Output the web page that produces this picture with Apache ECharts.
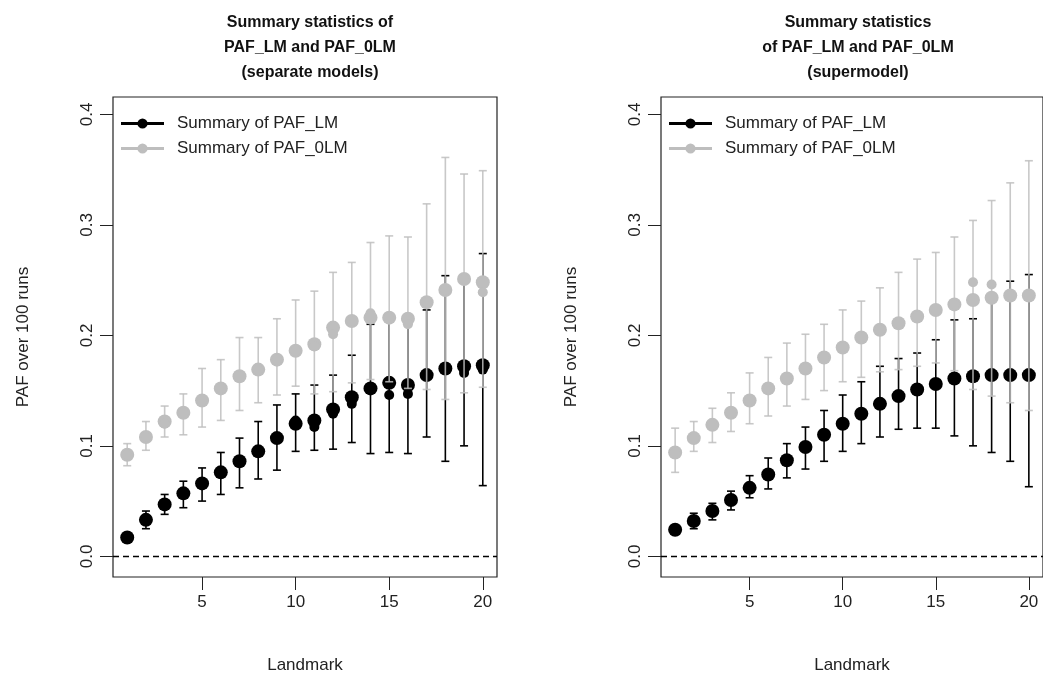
<!DOCTYPE html>
<html><head><meta charset="utf-8">
<script src="https://cdn.jsdelivr.net/npm/echarts@6/dist/echarts.min.js"></script>
<style>html,body{margin:0;padding:0;background:#fff}#c{width:1043px;height:687px}</style>
</head><body><div id="c"></div>
<script>
const landmarks = [1,2,3,4,5,6,7,8,9,10,11,12,13,14,15,16,17,18,19,20];
const xTicks = [5,10,15,20];
const yTicks = [0,0.1,0.2,0.3,0.4];

// Left panel: separate models
const sepLmMean   = [0.017,0.033,0.047,0.057,0.066,0.076,0.086,0.095,0.107,0.120,0.123,0.133,0.144,0.152,0.157,0.155,0.164,0.170,0.172,0.173];
const sepLmMedian = [0.017,0.033,0.047,0.057,0.066,0.076,0.086,0.095,0.107,0.123,0.117,0.129,0.138,0.152,0.146,0.147,0.164,0.170,0.166,0.169];
const sepLmMax    = [0.021,0.041,0.056,0.068,0.080,0.094,0.107,0.122,0.137,0.147,0.155,0.164,0.182,0.210,0.214,0.213,0.223,0.254,0.248,0.274];
const sepLmMin    = [0.013,0.025,0.038,0.044,0.050,0.056,0.062,0.070,0.078,0.095,0.096,0.097,0.103,0.093,0.094,0.093,0.108,0.086,0.100,0.064];
const sep0lmMean   = [0.092,0.108,0.122,0.130,0.141,0.152,0.163,0.169,0.178,0.186,0.192,0.207,0.213,0.216,0.216,0.215,0.230,0.241,0.251,0.248];
const sep0lmMedian = [0.092,0.108,0.120,0.130,0.141,0.152,0.163,0.169,0.178,0.186,0.190,0.201,0.213,0.220,0.216,0.210,0.230,0.241,0.251,0.239];
const sep0lmMax    = [0.102,0.122,0.136,0.147,0.170,0.178,0.198,0.198,0.215,0.232,0.240,0.257,0.266,0.284,0.290,0.289,0.319,0.361,0.346,0.349];
const sep0lmMin    = [0.082,0.096,0.108,0.110,0.117,0.123,0.132,0.139,0.146,0.154,0.147,0.149,0.157,0.160,0.158,0.152,0.151,0.142,0.148,0.153];

// Right panel: supermodel
const supLmMean   = [0.024,0.032,0.041,0.051,0.062,0.074,0.087,0.099,0.110,0.120,0.129,0.138,0.145,0.151,0.156,0.161,0.163,0.164,0.164,0.164];
const supLmMedian = [0.024,0.032,0.041,0.051,0.062,0.074,0.087,0.099,0.110,0.120,0.129,0.138,0.145,0.151,0.156,0.161,0.163,0.164,0.164,0.164];
const supLmMax    = [0.028,0.039,0.048,0.059,0.073,0.089,0.102,0.117,0.132,0.146,0.158,0.172,0.179,0.184,0.196,0.214,0.215,0.235,0.249,0.255];
const supLmMin    = [0.020,0.025,0.033,0.042,0.053,0.061,0.071,0.079,0.086,0.095,0.102,0.108,0.115,0.116,0.116,0.109,0.100,0.094,0.086,0.063];
const sup0lmMean   = [0.094,0.107,0.119,0.130,0.141,0.152,0.161,0.170,0.180,0.189,0.198,0.205,0.211,0.217,0.223,0.228,0.232,0.234,0.236,0.236];
const sup0lmMedian = [0.094,0.107,0.119,0.130,0.141,0.152,0.161,0.170,0.180,0.189,0.198,0.205,0.211,0.217,0.223,0.228,0.248,0.246,0.236,0.236];
const sup0lmMax    = [0.116,0.122,0.134,0.148,0.166,0.180,0.193,0.201,0.210,0.223,0.231,0.243,0.257,0.269,0.275,0.289,0.304,0.322,0.338,0.358];
const sup0lmMin    = [0.076,0.095,0.103,0.113,0.120,0.127,0.136,0.142,0.150,0.158,0.162,0.167,0.169,0.172,0.175,0.168,0.151,0.145,0.139,0.132];

const NAME_LM = 'Summary of PAF_LM';
const NAME_0LM = 'Summary of PAF_0LM';
const BLACK = '#000000';
const GREY = '#bebebe';
const FONT = 'Liberation Sans, Arial, Helvetica, sans-serif';

const chart = echarts.init(document.getElementById('c'), null, {renderer: 'canvas'});

function whiskers(idx, name, mins, maxs, color, opacity, z) {
  return {
    type: 'custom', name: name, xAxisIndex: idx, yAxisIndex: idx, z: z,
    encode: {x: 0, y: [1, 2]},
    data: landmarks.map((x, i) => [x, mins[i], maxs[i]]),
    renderItem: function (params, api) {
      const x = api.value(0);
      const lo = api.coord([x, api.value(1)]);
      const hi = api.coord([x, api.value(2)]);
      const w = 4;
      const st = {stroke: color, lineWidth: 1.6, opacity: opacity};
      return {type: 'group', children: [
        {type: 'line', shape: {x1: lo[0], y1: lo[1], x2: hi[0], y2: hi[1]}, style: st},
        {type: 'line', shape: {x1: lo[0]-w, y1: lo[1], x2: lo[0]+w, y2: lo[1]}, style: st},
        {type: 'line', shape: {x1: hi[0]-w, y1: hi[1], x2: hi[0]+w, y2: hi[1]}, style: st}
      ]};
    },
    silent: true
  };
}
function points(idx, name, vals, color, size, z, extra) {
  const s = {
    type: 'scatter', name: name, xAxisIndex: idx, yAxisIndex: idx, z: z,
    symbol: 'circle', symbolSize: size,
    itemStyle: {color: color, opacity: 1},
    data: landmarks.map((x, i) => [x, vals[i]]),
    silent: true
  };
  return Object.assign(s, extra || {});
}
const zeroLine = {
  silent: true, symbol: 'none', label: {show: false},
  lineStyle: {color: '#000', type: [6, 4], width: 1.4},
  data: [{yAxis: 0}]
};

const legendIcon = 'path://M0,4.5H42V7.5H0Z M16,6a5,5 0 1,1 10,0a5,5 0 1,1 -10,0Z';
function legend(left, top) {
  return {
    left: left, top: top, orient: 'vertical', itemWidth: 43, itemHeight: 12, itemGap: 8,
    selectedMode: false,
    textStyle: {fontFamily: FONT, fontSize: 17, color: '#222', padding: [0, 0, 0, 8]},
    data: [
      {name: NAME_LM, icon: legendIcon, itemStyle: {color: BLACK}},
      {name: NAME_0LM, icon: legendIcon, itemStyle: {color: GREY}}
    ]
  };
}
function xAxis(idx) {
  return {
    type: 'value', gridIndex: idx, min: 0.24, max: 20.76,
    splitLine: {show: false}, axisLine: {show: false, onZero: false},
    axisTick: {show: true, inside: false, length: 13, customValues: xTicks, lineStyle: {color: '#222', width: 1}},
    axisLabel: {show: true, customValues: xTicks, margin: 17, fontFamily: FONT, fontSize: 17, color: '#222'},
    name: 'Landmark', nameLocation: 'middle', nameGap: 80,
    nameTextStyle: {fontFamily: FONT, fontSize: 17, color: '#222'}
  };
}
function yAxis(idx) {
  return {
    type: 'value', gridIndex: idx, min: -0.0187, max: 0.4157,
    splitLine: {show: false}, axisLine: {show: false, onZero: false},
    axisTick: {show: true, inside: false, length: 13, customValues: yTicks, lineStyle: {color: '#222', width: 1}},
    axisLabel: {show: true, customValues: yTicks, rotate: 90, margin: 17, fontFamily: FONT, fontSize: 17, color: '#222',
      formatter: v => v.toFixed(1)},
    name: 'PAF over 100 runs', nameLocation: 'middle', nameGap: 81, nameRotate: 90,
    nameTextStyle: {fontFamily: FONT, fontSize: 17, color: '#222'}
  };
}
const titleStyle = {fontFamily: FONT, fontSize: 16, fontWeight: 'bold', color: '#111', lineHeight: 25};

chart.setOption({
  animation: false,
  backgroundColor: '#fff',
  title: [
    {text: 'Summary statistics of\nPAF_LM and PAF_0LM\n(separate models)', left: 305, top: 5, textAlign: 'center', textStyle: titleStyle},
    {text: 'Summary statistics\nof PAF_LM and PAF_0LM\n(supermodel)', left: 853, top: 5, textAlign: 'center', textStyle: titleStyle}
  ],
  legend: [legend(116, 110), legend(664, 110)],
  grid: [
    {left: 113, top: 97, width: 384, height: 480, show: true, borderColor: '#222', borderWidth: 1.2, backgroundColor: 'transparent'},
    {left: 661, top: 97, width: 384, height: 480, show: true, borderColor: '#222', borderWidth: 1.2, backgroundColor: 'transparent'}
  ],
  xAxis: [xAxis(0), xAxis(1)],
  yAxis: [yAxis(0), yAxis(1)],
  series: [
    whiskers(0, NAME_LM, sepLmMin, sepLmMax, BLACK, 1, 2),
    points(0, NAME_LM, sepLmMean, BLACK, 14, 3, {markLine: zeroLine}),
    points(0, NAME_LM, sepLmMedian, BLACK, 10, 3),
    whiskers(0, NAME_0LM, sep0lmMin, sep0lmMax, GREY, 0.85, 4),
    points(0, NAME_0LM, sep0lmMean, GREY, 14, 5),
    points(0, NAME_0LM, sep0lmMedian, GREY, 10, 5),

    whiskers(1, NAME_LM, supLmMin, supLmMax, BLACK, 1, 2),
    points(1, NAME_LM, supLmMean, BLACK, 14, 3, {markLine: zeroLine}),
    points(1, NAME_LM, supLmMedian, BLACK, 10, 3),
    whiskers(1, NAME_0LM, sup0lmMin, sup0lmMax, GREY, 0.85, 4),
    points(1, NAME_0LM, sup0lmMean, GREY, 14, 5),
    points(1, NAME_0LM, sup0lmMedian, GREY, 10, 5)
  ]
});
</script></body></html>
